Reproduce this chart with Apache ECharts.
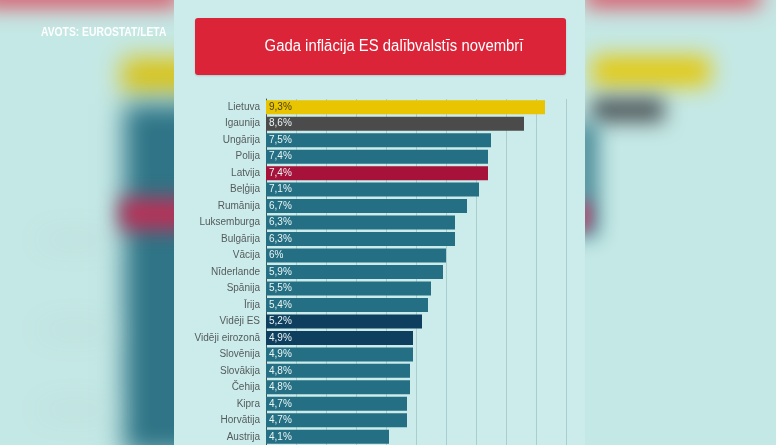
<!DOCTYPE html>
<html><head><meta charset="utf-8">
<script src="https://cdn.jsdelivr.net/npm/echarts@6/dist/echarts.min.js"></script>
<style>html,body{margin:0;padding:0;background:#c4e8e5;}#c{width:776px;height:445px;}</style>
</head><body><div id="c"></div>
<script>
var categories = ['Lietuva','Igaunija','Ungārija','Polija','Latvija','Beļģija','Rumānija','Luksemburga','Bulgārija','Vācija','Nīderlande','Spānija','Īrija','Vidēji ES','Vidēji eirozonā','Slovēnija','Slovākija','Čehija','Kipra','Horvātija','Austrija'];
var values = [9.3,8.6,7.5,7.4,7.4,7.1,6.7,6.3,6.3,6,5.9,5.5,5.4,5.2,4.9,4.9,4.8,4.8,4.7,4.7,4.1];
var xTicks = [0,1,2,3,4,5,6,7,8,9,10];
var titleText = 'Gada inflācija ES dalībvalstīs novembrī';
var sourceText = 'AVOTS: EUROSTAT/LETA';

var defaultColor = '#246f83';
var specialColors = {'Lietuva':'#e9c400','Igaunija':'#4b4b4b','Latvija':'#a6123a','Vidēji ES':'#0f3f5f','Vidēji eirozonā':'#0f3f5f'};
var specialLabelColors = {'Lietuva':'#4d4110'};

var chart = echarts.init(document.getElementById('c'), null, {renderer:'canvas'});

function blob(x,y,w,h,color,blur){
  return {type:'rect', z:-20, shape:{x:x-3000,y:y,width:w,height:h},
    style:{fill:color, shadowBlur:blur, shadowColor:color, shadowOffsetX:3000, shadowOffsetY:0}};
}

var seriesData = categories.map(function(c,i){
  return {value: values[i], itemStyle:{color: specialColors[c] || defaultColor},
    label:{color: specialLabelColors[c] || '#eaf5f5'}};
});

chart.setOption({
  backgroundColor:'#c4e8e5',
  animation:false,
  graphic:[
    // blurred background echoes
    blob(-20,-14,200,20,'#dc3f52',22),
    blob(585,-14,175,20,'#dc3f52',22),
    blob(122,58,80,34,'#d9c313',24),
    blob(124,104,80,350,'#2f7587',24),
    blob(120,198,80,32,'#b83258',20),
    blob(592,56,118,30,'#e3c90f',22),
    blob(592,98,72,24,'#4f585b',20),
    blob(572,122,26,115,'#4a8b98',20),
    blob(572,202,18,28,'#c2406a',16),
    blob(40,236,70,8,'#b9d9d6',30),
    blob(40,326,70,8,'#b9d9d6',30),
    blob(40,406,70,8,'#b9d9d6',30),
    // panel
    {type:'rect', z:-5, shape:{x:174,y:0,width:411,height:445}, style:{fill:'#cbeceb'}},
    // title box
    {type:'rect', z:10, shape:{x:195,y:18,width:371,height:57,r:3}, style:{fill:'#dc2439', shadowBlur:2, shadowColor:'rgba(0,0,0,0.15)', shadowOffsetY:1}},
    {type:'text', z:11, x:394, y:47, scaleX:0.93, style:{text:titleText, fill:'#ffffff', font:'16px "Liberation Sans",Arial,sans-serif', textAlign:'center', textVerticalAlign:'middle'}},
    {type:'text', z:11, x:41, y:33, scaleX:0.86, style:{text:sourceText, fill:'#ffffff', font:'bold 12px "Liberation Sans",Arial,sans-serif', textAlign:'left', textVerticalAlign:'middle'}}
  ],
  grid:{left:266, top:99, width:300, height:346.5, containLabel:false},
  xAxis:{type:'value', min:0, max:10, interval:1, position:'top',
    axisLabel:{show:false}, axisTick:{show:false}, axisLine:{show:false},
    splitLine:{show:true, lineStyle:{color:'#a9cecd', width:1}}},
  yAxis:{type:'category', data:categories, inverse:true,
    axisLine:{show:true, lineStyle:{color:'#4a5656', width:1}},
    axisTick:{show:false},
    axisLabel:{color:'#555b5c', fontSize:10, fontFamily:'"Liberation Sans",Arial,sans-serif', margin:6}},
  series:[{type:'bar', data:seriesData, barWidth:14,
    label:{show:true, position:'insideLeft', distance:3, fontSize:10, fontFamily:'"Liberation Sans",Arial,sans-serif',
      formatter:function(p){return String(p.value).replace('.',',')+'%';}}}]
});
</script></body></html>
